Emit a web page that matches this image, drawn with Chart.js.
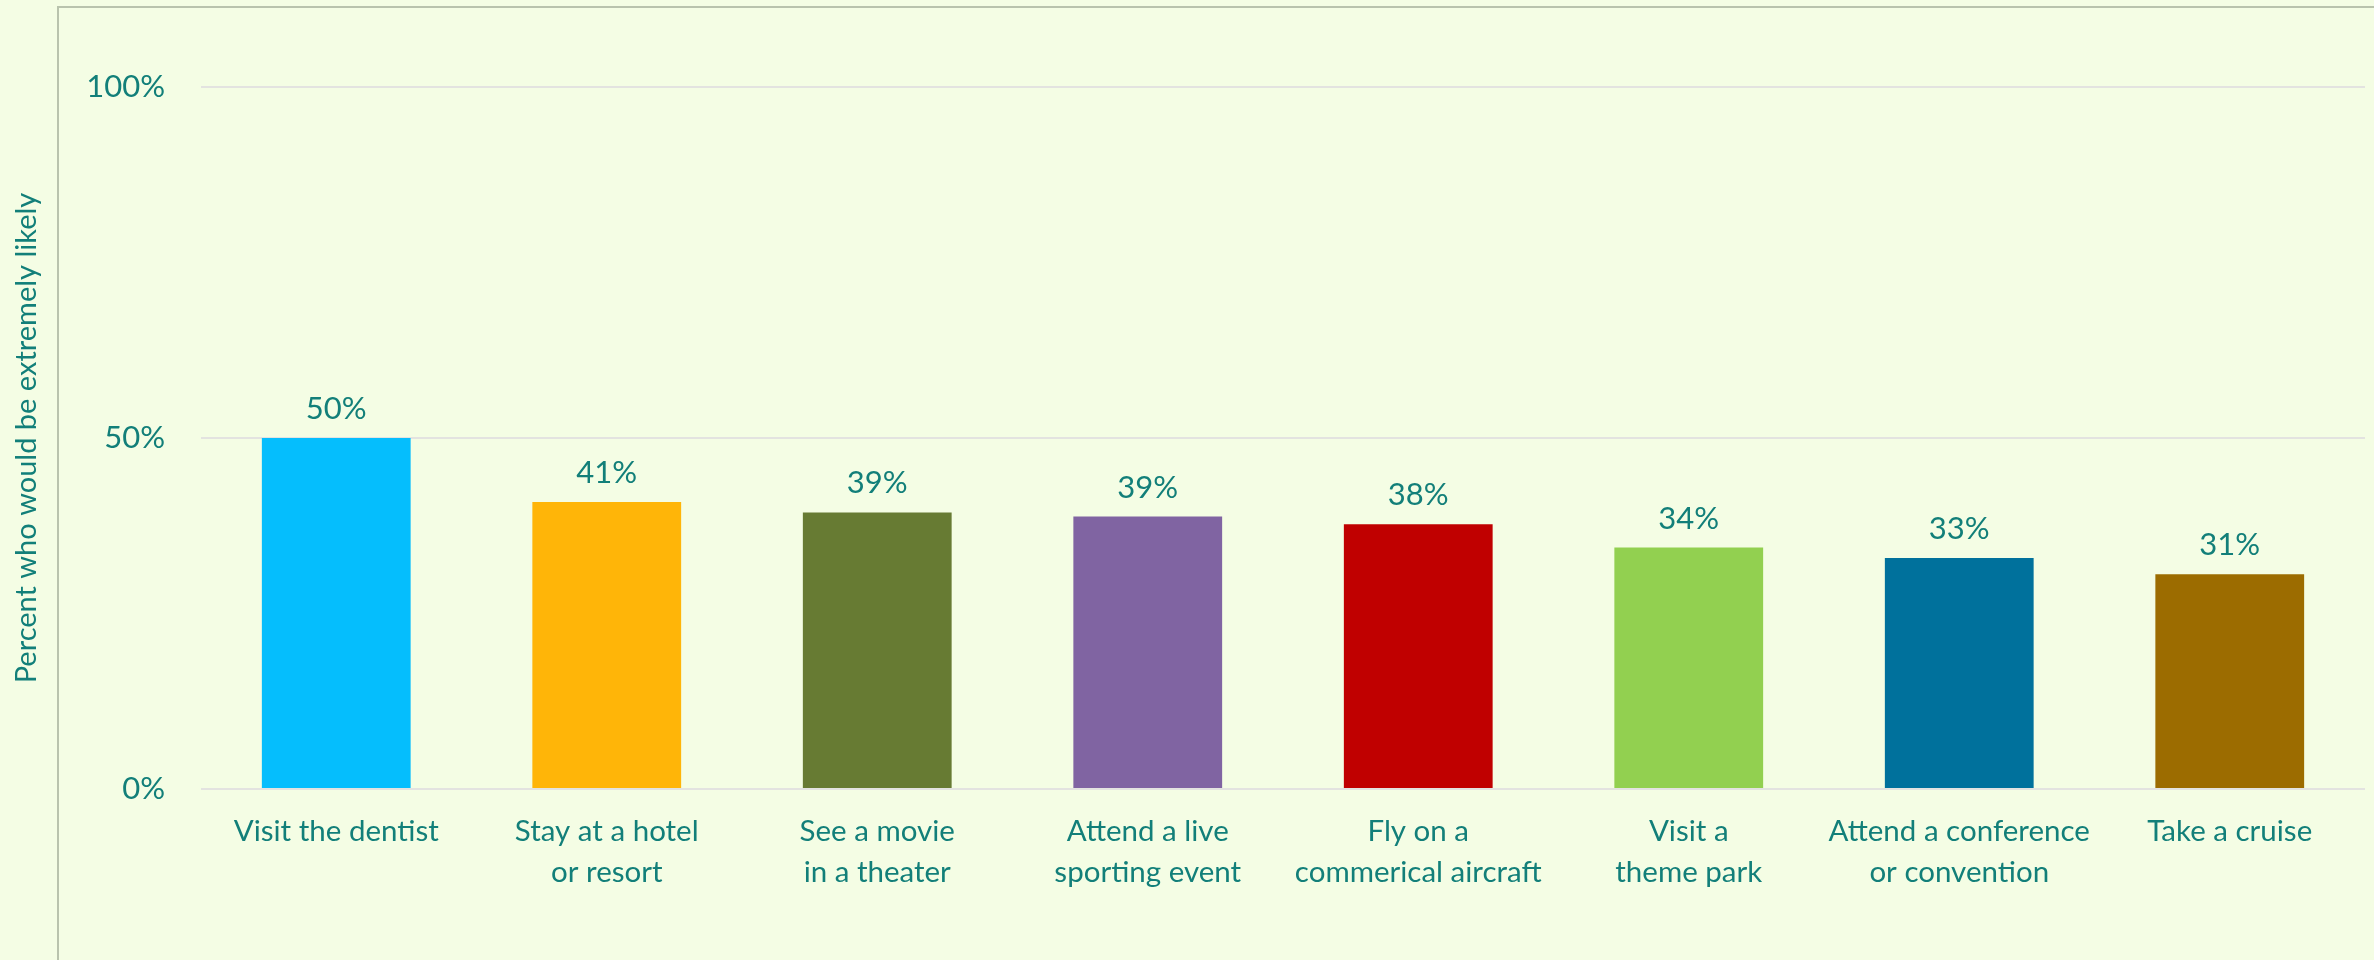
<!DOCTYPE html>
<html>
<head>
<meta charset="utf-8">
<script src="https://cdn.jsdelivr.net/npm/chart.js@4"></script>
<style>
  html, body { margin: 0; padding: 0; background: #f4fde4; }
  #wrap { position: relative; width: 2374px; height: 960px; overflow: hidden; }
  #frame { position: absolute; left: 57px; top: 6px; width: 2400px; height: 1000px;
           border-left: 2px solid #b9c3ad; border-top: 2px solid #b9c3ad; }
  canvas { position: absolute; left: 0; top: 0; }
</style>
</head>
<body>
<div id="wrap">
  <div id="frame"></div>
  <canvas id="chart" width="2374" height="960"></canvas>
</div>
<script>
const categories = [
    ['Visit the dentist'],
    ['Stay at a hotel', 'or resort'],
    ['See a movie', 'in a theater'],
    ['Attend a live', 'sporting event'],
    ['Fly on a', 'commerical aircraft'],
    ['Visit a', 'theme park'],
    ['Attend a conference', 'or convention'],
    ['Take a cruise']
];
const values = [50, 40.9, 39.4, 38.8, 37.7, 34.4, 32.9, 30.6];
const barColors = ['#05befd', '#ffb508', '#677b33', '#8064a2', '#c00000', '#92d050', '#00719c', '#9c6c00'];
const yTicks = [0, 50, 100];
const yTitle = 'Percent who would be extremely likely';

const teal = '#127f79';
const font = 'Lato';

// draws the value above each bar
const barLabels = {
    id: 'barLabels',
    afterDatasetsDraw(chart) {
        const ctx = chart.ctx;
        const meta = chart.getDatasetMeta(0);
        ctx.save();
        ctx.font = `31px ${font}`;
        ctx.fillStyle = teal;
        ctx.textAlign = 'center';
        ctx.textBaseline = 'middle';
        meta.data.forEach((bar, i) => {
            ctx.fillText(Math.round(values[i]) + '%', bar.x, bar.y - 29);
        });
        ctx.restore();
    }
};

new Chart(document.getElementById('chart'), {
    type: 'bar',
    data: {
        labels: categories,
        datasets: [{
            data: values,
            backgroundColor: barColors,
            borderWidth: 0,
            categoryPercentage: 1,
            barPercentage: 0.55
        }]
    },
    options: {
        responsive: false,
        animation: false,
        layout: { padding: { top: 87, right: 9, left: 0, bottom: 0 } },
        plugins: {
            legend: { display: false },
            tooltip: { enabled: false }
        },
        scales: {
            x: {
                grid: { display: false, drawTicks: false },
                border: { display: false },
                ticks: {
                    color: teal,
                    font: { family: font, size: 29.5, lineHeight: 1.4 },
                    padding: 22,
                    maxRotation: 0,
                    autoSkip: false
                },
                afterFit(scale) { scale.height = 171; }
            },
            y: {
                min: 0,
                max: 100,
                afterBuildTicks(scale) { scale.ticks = yTicks.map(v => ({ value: v })); },
                grid: { color: '#e3e3e0', lineWidth: 2, drawTicks: false },
                border: { display: false },
                ticks: {
                    color: teal,
                    font: { family: font, size: 31 },
                    padding: 36,
                    callback: v => v + '%'
                },
                title: {
                    display: true,
                    text: yTitle,
                    color: teal,
                    font: { family: font, size: 29 },
                    padding: { top: 9, bottom: 0 }
                },
                afterFit(scale) { scale.width = 201; }
            }
        }
    },
    plugins: [barLabels]
});
</script>
</body>
</html>
